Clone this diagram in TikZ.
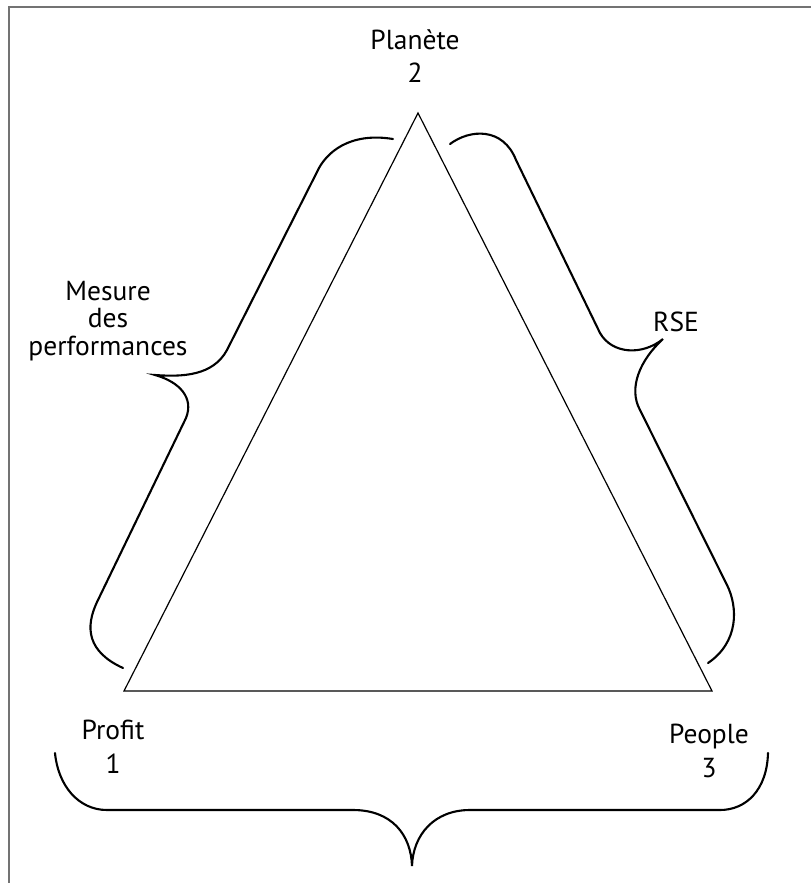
\documentclass[tikz,border=0pt]{standalone}
\usepackage{fontspec}
\setmainfont{PT Sans}
\begin{document}
\begin{tikzpicture}[x=1pt,y=-1pt,
  lbl/.style={align=center,anchor=base,inner sep=0pt,font=\fontsize{27.5}{34}\selectfont},
  tri/.style={line width=1.2pt,line join=miter},
  brace/.style={line width=2.1pt,line cap=round},
  frameline/.style={line width=1.6pt,draw=black!55}]
\useasboundingbox (0,0) rectangle (811,883);
% frame (top and left only)
\draw[frameline] (9,883) -- (9,7) -- (811,7);
% triangle
\coordinate (top) at (418,113);
\coordinate (bl) at (124,691);
\coordinate (br) at (712,691);
\draw[tri] (top) -- (bl) -- (br) -- cycle;
% labels (anchor = baseline of last line)
\node[lbl,font=\fontsize{27.5}{33}\selectfont] (planete) at (415,82) {Planète\\2};
\node[lbl,font=\fontsize{27.5}{27.5}\selectfont] (mesure) at (108,355) {Mesure\\des\\performances};
\node[lbl] (rse) at (676,331) {RSE};
\node[lbl] (profit) at (113,773) {Profit\\1};
\node[lbl] (people) at (709,777) {People\\3};
% left brace
\draw[brace] (393,139) .. controls (350,132) and (326,152) .. (317,172)
  -- (227,350) .. controls (213,376) and (182,377) .. (155,375)
  .. controls (180,382) and (194,398) .. (186,418)
  -- (98,600) .. controls (84,628) and (88,652) .. (123,668);
% right brace
\draw[brace] (450,144) .. controls (470,129) and (503,127) .. (516,160)
  -- (600,333) .. controls (612,354) and (642,356) .. (663,339)
  .. controls (640,360) and (628,388) .. (640,410)
  -- (727,585) .. controls (738,607) and (739,642) .. (708,663);
% bottom brace
\draw[brace] (55,753) .. controls (58,785) and (78,810) .. (107,810)
  -- (353,810) .. controls (392,810) and (411,835) .. (412,866)
  .. controls (413,835) and (434,810) .. (470,810)
  -- (720,810) .. controls (746,810) and (767,790) .. (768,753);
\end{tikzpicture}
\end{document}
